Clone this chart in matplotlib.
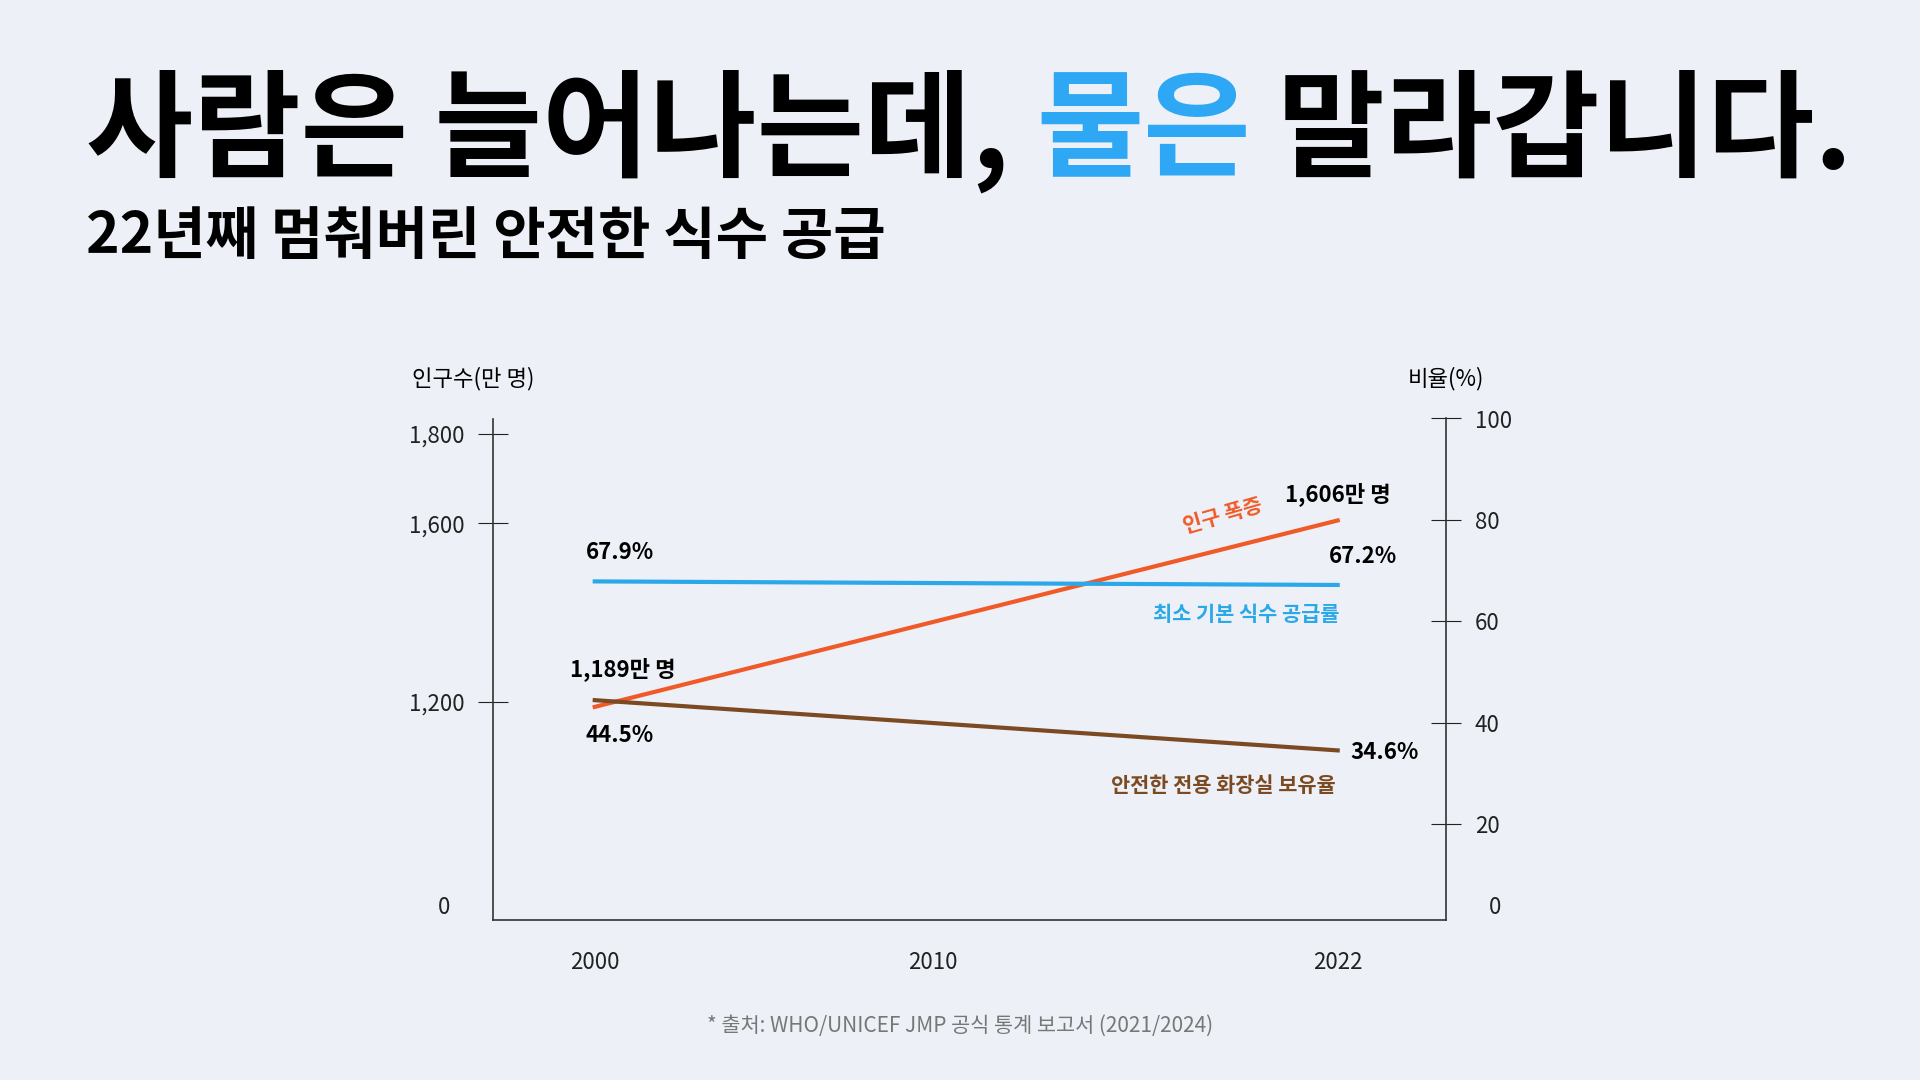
import matplotlib
matplotlib.use("Agg")
import matplotlib.pyplot as plt

plt.rcParams['font.family'] = ['Noto Sans CJK KR', 'DejaVu Sans']

years = [2000, 2022]
population = [1189, 1606]          # 만 명
water_basic = [67.9, 67.2]         # %
sanitation = [44.5, 34.6]          # %
x_ticks = [2000, 2010, 2022]
left_ticks = [1200, 1600, 1800]
right_ticks = [20, 40, 60, 80, 100]

BG = '#EDF1F7'
ORANGE = '#F05A28'
BLUE = '#2BA8E8'
BROWN = '#7B4A22'
TBLUE = '#2EA8F5'

fig = plt.figure(figsize=(19.2, 10.8), dpi=100, facecolor=BG)

r = fig.canvas.get_renderer()
parts = [("사람은 늘어나는데, ", 'black'), ("물은", TBLUE), (" 말라갑니다.", 'black')]
x = 0.045
for s, c in parts:
    t = fig.text(x, 0.845, s, fontsize=84, fontweight='bold', color=c, va='baseline')
    bb = t.get_window_extent(renderer=r)
    x += bb.width / fig.bbox.width
fig.text(0.045, 0.765, "22년째 멈춰버린 안전한 식수 공급", fontsize=41, fontweight='bold', va='baseline')

ax = fig.add_axes([0.257, 0.148, 0.496, 0.4645])
ax.set_facecolor('none')
ax2 = ax.twinx()

ax.set_xlim(1997.0, 2025.2)
ax.set_ylim(712, 1834)
ax2.set_ylim(1.15, 100)

ax.plot(years, population, color=ORANGE, lw=3)
ax2.plot(years, water_basic, color=BLUE, lw=3)
ax2.plot(years, sanitation, color=BROWN, lw=3)

for a in (ax, ax2):
    a.spines['top'].set_visible(False)
    for s in a.spines.values():
        s.set_color('#333333'); s.set_linewidth(1.2)
ax.spines['right'].set_visible(False)
ax2.spines['left'].set_visible(False)
ax2.spines['bottom'].set_visible(False)

ax.set_xticks(x_ticks)
ax.set_xticklabels([str(v) for v in x_ticks])
ax.tick_params(axis='x', length=0, pad=22, labelsize=16, colors='#222222')
ax.set_yticks(left_ticks)
ax.set_yticklabels([f"{v:,}" for v in left_ticks])
ax.tick_params(axis='y', direction='inout', length=22, pad=10, labelsize=16, colors='#222222')
ax2.set_yticks(right_ticks)
ax2.tick_params(axis='y', direction='inout', length=22, pad=10, labelsize=16, colors='#222222')

ax.text(-0.045, 0.025, "0", transform=ax.transAxes, ha='right', va='center', fontsize=16, color='#222222')
ax2.text(1.045, 0.025, "0", transform=ax2.transAxes, ha='left', va='center', fontsize=16, color='#222222')
ax.text(-0.085, 1.08, "인구수(만 명)", transform=ax.transAxes, ha='left', va='center', fontsize=16)
ax2.text(1.0, 1.08, "비율(%)", transform=ax2.transAxes, ha='center', va='center', fontsize=16)

kw = dict(fontsize=16, fontweight='bold', ha='center')
ax.annotate(f"{population[0]:,}만 명", (years[0], population[0]), xytext=(20, 22), textcoords='offset points', **kw)
ax.annotate(f"{population[1]:,}만 명", (years[1], population[1]), xytext=(0, 14), textcoords='offset points', **kw)
ax2.annotate(f"{water_basic[0]}%", (years[0], water_basic[0]), xytext=(18, 16), textcoords='offset points', **kw)
ax2.annotate(f"{water_basic[1]}%", (years[1], water_basic[1]), xytext=(18, 16), textcoords='offset points', **kw)
ax2.annotate(f"{sanitation[0]}%", (years[0], sanitation[0]), xytext=(18, -30), textcoords='offset points', **kw)
ax2.annotate(f"{sanitation[1]}%", (years[1], sanitation[1]), xytext=(34, -6), textcoords='offset points', **kw)

ax.annotate("인구 폭증", (2018.6, population[0] + (population[1]-population[0])*18.6/22),
            xytext=(0, 12), textcoords='offset points', color=ORANGE, fontsize=15,
            fontweight='bold', ha='center', rotation=16)
ax2.annotate("최소 기본 식수 공급률", (2019.3, water_basic[1]), xytext=(0, -26), textcoords='offset points',
             color=BLUE, fontsize=15, fontweight='bold', ha='center')
ax2.annotate("안전한 전용 화장실 보유율", (2018.6, sanitation[1]), xytext=(0, -30), textcoords='offset points',
             color=BROWN, fontsize=15, fontweight='bold', ha='center')

fig.text(0.5, 0.045, "* 출처: WHO/UNICEF JMP 공식 통계 보고서 (2021/2024)", ha='center', fontsize=15, color='#777777')

fig.savefig("out.png", dpi=100, facecolor=BG)
